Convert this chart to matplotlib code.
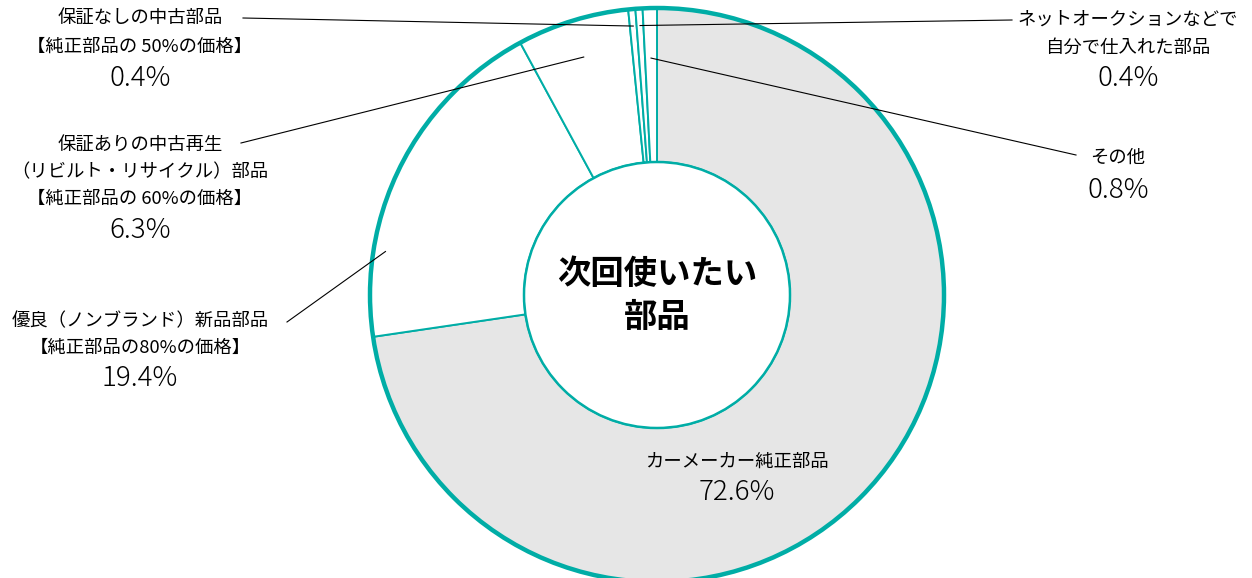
import matplotlib
matplotlib.use("Agg")
import matplotlib.pyplot as plt
import numpy as np

plt.rcParams['font.family'] = ['Noto Sans CJK JP', 'DejaVu Sans']

# ---- data ----
categories = ["カーメーカー純正部品",
              "優良（ノンブランド）新品部品\n【純正部品の80%の価格】",
              "保証ありの中古再生\n（リビルト・リサイクル）部品\n【純正部品の 60%の価格】",
              "保証なしの中古部品\n【純正部品の 50%の価格】",
              "ネットオークションなどで\n自分で仕入れた部品",
              "その他"]
values = [72.6, 19.4, 6.3, 0.4, 0.4, 0.8]
pct_labels = ["72.6%", "19.4%", "6.3%", "0.4%", "0.4%", "0.8%"]
center_title = "次回使いたい\n部品"

# ---- style ----
TEAL = "#00ADA6"
GRAY = "#E6E6E6"
colors = [GRAY, "white", "white", "white", "white", "white"]

W, H = 1252, 578
fig = plt.figure(figsize=(W / 100, H / 100), dpi=100)
ax = fig.add_axes([0, 0, 1, 1])

cx, cy = 657, H - 295
R_out, R_in = 287, 133

wedges, _ = ax.pie(values, radius=R_out, center=(cx, cy), startangle=90,
                   counterclock=False, colors=colors,
                   wedgeprops=dict(width=R_out - R_in, edgecolor=TEAL, linewidth=1.4))

ax.add_patch(plt.Circle((cx, cy), R_out, fill=False, edgecolor=TEAL, linewidth=3.2, zorder=5))
ax.add_patch(plt.Circle((cx, cy), R_in, facecolor="white", edgecolor=TEAL, linewidth=1.8, zorder=5))

ax.set_xlim(0, W)
ax.set_ylim(0, H)
ax.set_aspect('equal')
ax.axis('off')

ax.text(cx, H - 296, center_title, ha='center', va='center', fontsize=24,
        fontweight='bold', linespacing=1.4, zorder=6)

def wedge_point(i, frac=0.5, r=270):
    w = wedges[i]
    th = np.deg2rad(w.theta1 + (w.theta2 - w.theta1) * frac)
    return cx + r * np.cos(th), cy + r * np.sin(th)

LFS = 13.2
PFS = 20

def block(x, y_lines, y_pct, text, pct):
    for line, yy in zip(text.split("\n"), y_lines):
        ax.text(x, H - yy, line, ha='center', va='center', fontsize=LFS, zorder=6)
    ax.text(x, H - y_pct, pct, ha='center', va='center', fontsize=PFS,
            fontweight='light', zorder=6)

# カーメーカー純正部品 (inside)
block(737, [462], 492, categories[0], pct_labels[0])
# 優良
block(140, [321, 348], 378, categories[1], pct_labels[1])
# 保証あり
block(140, [145, 172, 199], 230, categories[2], pct_labels[2])
# 保証なし
block(140, [18, 47], 78, categories[3], pct_labels[3])
# ネット
block(1128, [20, 48], 78, categories[4], pct_labels[4])
# その他
block(1118, [158], 190, categories[5], pct_labels[5])

def leader(i, start, frac, r):
    ex, ey = wedge_point(i, frac, r)
    ax.plot([start[0], ex], [H - start[1], ey], color="black", linewidth=0.8, zorder=7)

leader(1, (287, 322), 0.75, 275)
leader(2, (241, 143), 0.5, 249)
leader(3, (243, 18), 0.5, 270)
leader(4, (1012, 20), 0.5, 270)
leader(5, (1076, 155), 0.5, 237)

fig.savefig("out.png", dpi=100)
